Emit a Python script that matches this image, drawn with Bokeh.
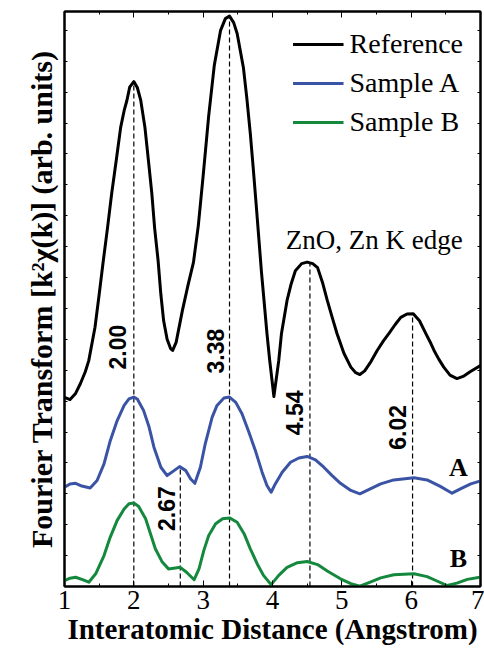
from math import pi
from bokeh.plotting import figure
from bokeh.models import (Range1d, FixedTicker, LinearAxis, Legend, LegendItem)
from bokeh.core.properties import value
from bokeh.embed import file_html
from bokeh.resources import INLINE

# ---------------- data ----------------
ref_x = [1.00, 1.08, 1.16, 1.23, 1.30, 1.35, 1.44, 1.50, 1.56, 1.62, 1.68, 1.75, 1.81,
         1.86, 1.90, 1.94, 2.00, 2.05, 2.10, 2.16, 2.21, 2.26, 2.30, 2.35, 2.39, 2.43,
         2.48, 2.53, 2.56,
         2.61, 2.70, 2.78, 2.86, 2.93, 3.00, 3.08, 3.16, 3.25, 3.32, 3.38, 3.44, 3.49,
         3.58, 3.63, 3.68, 3.72, 3.76, 3.80, 3.84, 3.88, 3.92, 3.96, 4.02, 4.09, 4.13,
         4.21, 4.27, 4.33, 4.42, 4.50, 4.58, 4.65, 4.72, 4.79, 4.86, 4.93, 5.03, 5.13,
         5.20, 5.26, 5.33, 5.42, 5.51, 5.60, 5.68, 5.77, 5.85, 5.94, 6.03, 6.12, 6.21,
         6.27, 6.33, 6.40, 6.47, 6.56, 6.66, 6.75, 6.85, 7.00]
ref_y = [6.12, 6.05, 6.25, 6.57, 6.95, 7.31, 8.39, 9.45, 10.55, 11.60, 12.71, 13.85, 14.86,
         15.40, 15.73, 16.16, 16.34, 16.15, 15.73, 14.86, 13.80, 12.71, 11.60, 10.55, 9.45, 8.60,
         8.00, 7.70, 7.64,
         7.90, 8.93, 9.74, 10.49, 11.68, 13.30, 15.24, 16.86, 17.99, 18.38, 18.46, 18.25, 17.90,
         16.80, 15.80, 14.66, 13.60, 12.49, 11.35, 10.20, 9.20, 8.19, 7.31, 6.15, 7.31, 8.20,
         9.26, 9.80, 10.22, 10.45, 10.50, 10.45, 10.32, 9.85, 9.26, 8.72, 8.19, 7.55, 7.10,
         6.92, 6.86, 6.98, 7.28, 7.64, 7.95, 8.19, 8.48, 8.71, 8.82, 8.83, 8.60, 8.19,
         7.93, 7.64, 7.35, 7.10, 6.84, 6.73, 6.80, 6.95, 7.15]

a_x = [1.00, 1.08, 1.16, 1.25, 1.37, 1.47, 1.57, 1.66, 1.76, 1.86, 1.93, 2.00, 2.05, 2.14,
       2.22, 2.29, 2.39, 2.48, 2.58, 2.66, 2.75, 2.82, 2.88, 2.96, 3.03, 3.13, 3.20, 3.30,
       3.38, 3.47, 3.56, 3.66, 3.76, 3.85, 3.92, 3.98, 4.04, 4.14, 4.26, 4.38, 4.50, 4.62,
       4.74, 4.86, 4.98, 5.13, 5.26, 5.41, 5.56, 5.75, 6.04, 6.23, 6.42, 6.59, 6.71, 6.86,
       6.99]
a_y = [3.21, 3.32, 3.34, 3.25, 3.19, 3.43, 3.97, 4.72, 5.37, 5.86, 6.07, 6.13, 6.07, 5.70,
       5.16, 4.51, 3.86, 3.59, 3.75, 3.88, 3.75, 3.48, 3.34, 3.86, 4.62, 5.48, 5.86, 6.10,
       6.13, 5.96, 5.59, 4.99, 4.35, 3.70, 3.27, 3.05, 3.32, 3.70, 4.02, 4.16, 4.21, 4.10,
       3.86, 3.59, 3.34, 3.11, 3.00, 3.16, 3.32, 3.45, 3.52, 3.45, 3.24, 3.02, 3.16, 3.32,
       3.41]

b_x = [1.00, 1.08, 1.16, 1.26, 1.35, 1.45, 1.57, 1.66, 1.76, 1.86, 1.93, 2.00, 2.07, 2.17,
       2.24, 2.31, 2.41, 2.50, 2.60, 2.67, 2.76, 2.87, 2.94, 3.01, 3.08, 3.18, 3.28, 3.38,
       3.49, 3.59, 3.68, 3.78, 3.87, 3.98, 4.09, 4.21, 4.36, 4.50, 4.65, 4.79, 4.98, 5.13,
       5.26, 5.41, 5.56, 5.75, 6.04, 6.23, 6.38, 6.52, 6.66, 6.81, 6.99]
b_y = [0.19, 0.27, 0.30, 0.22, 0.14, 0.41, 1.00, 1.60, 2.14, 2.51, 2.68, 2.70, 2.59, 2.19,
       1.71, 1.22, 0.79, 0.57, 0.60, 0.62, 0.46, 0.22, 0.57, 1.17, 1.65, 2.03, 2.19, 2.22,
       2.08, 1.71, 1.22, 0.73, 0.36, 0.06, 0.36, 0.62, 0.77, 0.81, 0.71, 0.50, 0.25, 0.09,
       0.01, 0.14, 0.28, 0.38, 0.41, 0.32, 0.17, 0.03, 0.11, 0.23, 0.30]

peak_pos = [2.00, 2.67, 3.38, 4.54, 6.02]
peak_top = [16.34, 3.88, 18.46, 10.50, 8.83]
peak_labels = ["2.00", "2.67", "3.38", "4.54", "6.02"]
label_x = [1.76, 2.47, 3.18, 4.32, 5.80]
label_y = [7.75, 2.52, 7.62, 5.62, 5.15]

x_ticks = [1, 2, 3, 4, 5, 6, 7]
x_minor = [1.5, 2.5, 3.5, 4.5, 5.5, 6.5]
y_ticks = list(range(1, 19))

series_names = ["Reference", "Sample A", "Sample B"]
series_colors = ["#000000", "#3a53a4", "#14893e"]

# ---------------- figure ----------------
p = figure(width=484, height=654, x_range=Range1d(1, 7), y_range=Range1d(0, 18.61),
           output_backend="svg", toolbar_location=None,
           min_border_left=64, min_border_right=4, min_border_top=11,
           min_border_bottom=68, background_fill_color="white",
           border_fill_color="white")
p.xgrid.visible = False
p.ygrid.visible = False
p.outline_line_color = "black"
p.outline_line_width = 2

xt = FixedTicker(ticks=x_ticks, minor_ticks=x_minor)
yt = FixedTicker(ticks=y_ticks, minor_ticks=[])

serif = "Liberation Serif"

xa = p.xaxis[0]
xa.ticker = xt
xa.major_tick_in = 6
xa.major_tick_out = 0
xa.minor_tick_in = 3
xa.minor_tick_out = 0
xa.axis_line_width = 2
xa.major_label_text_font = serif
xa.major_label_text_font_size = "27px"
xa.major_label_text_color = "black"
xa.major_label_standoff = 4
xa.axis_label = "Interatomic Distance (Angstrom)"
xa.axis_label_text_font = serif
xa.axis_label_text_font_style = "bold"
xa.axis_label_text_font_size = "29px"
xa.axis_label_text_color = "black"
xa.axis_label_standoff = 1

ya = p.yaxis[0]
ya.ticker = yt
ya.major_tick_in = 3
ya.major_tick_out = 0
ya.minor_tick_line_color = None
ya.axis_line_width = 2
ya.major_label_text_font_size = "0px"
ya.major_label_text_color = None
ya.major_label_standoff = 0
ya.axis_label = "Fourier Transform [k²χ(k)] (arb. units)"
ya.axis_label_text_font = serif
ya.axis_label_text_font_style = "bold"
ya.axis_label_text_font_size = "30px"
ya.axis_label_text_color = "black"
ya.axis_label_standoff = 7

top = LinearAxis(ticker=xt, major_tick_in=6, major_tick_out=0, minor_tick_in=3,
                 minor_tick_out=0, axis_line_width=2, major_label_text_font_size="0px",
                 major_label_text_color=None, major_label_standoff=0)
right = LinearAxis(ticker=yt, major_tick_in=3, major_tick_out=0,
                   minor_tick_line_color=None, axis_line_width=2,
                   major_label_text_font_size="0px", major_label_text_color=None,
                   major_label_standoff=0)
p.add_layout(top, "above")
p.add_layout(right, "right")

# dashed peak markers
p.segment(x0=peak_pos, y0=[0] * len(peak_pos), x1=peak_pos, y1=peak_top,
          line_color="black", line_width=1.2, line_dash="5 3")

# curves
r_ref = p.line(ref_x, ref_y, line_color=series_colors[0], line_width=3, line_join="round")
r_a = p.line(a_x, a_y, line_color=series_colors[1], line_width=3, line_join="round")
r_b = p.line(b_x, b_y, line_color=series_colors[2], line_width=3, line_join="round")

# peak labels
p.text(x=label_x, y=label_y, text=peak_labels, angle=pi / 2,
       text_font=value("Liberation Sans"), text_font_style="bold",
       text_font_size="23px", text_align="center", text_baseline="middle",
       text_color="black")

# annotations
p.text(x=[4.19], y=[11.23], text=["ZnO, Zn K edge"], text_font=value(serif),
       text_font_size="27px", text_align="left", text_baseline="alphabetic",
       text_color="black")
p.text(x=[6.68, 6.68], y=[3.85, 0.91], text=["A", "B"], text_font=value(serif),
       text_font_style="bold", text_font_size="26px", text_align="center",
       text_baseline="middle", text_color="black")

legend = Legend(items=[LegendItem(label=series_names[0], renderers=[r_ref]),
                       LegendItem(label=series_names[1], renderers=[r_a]),
                       LegendItem(label=series_names[2], renderers=[r_b])],
                location="top_right", margin=17, padding=0, spacing=7,
                label_height=30, glyph_height=30, glyph_width=51,
                label_standoff=6, label_text_font=serif,
                label_text_font_size="28px", label_text_color="black",
                border_line_color=None, background_fill_alpha=0)
p.add_layout(legend)

open("out.html", "w").write(file_html(p, INLINE))
